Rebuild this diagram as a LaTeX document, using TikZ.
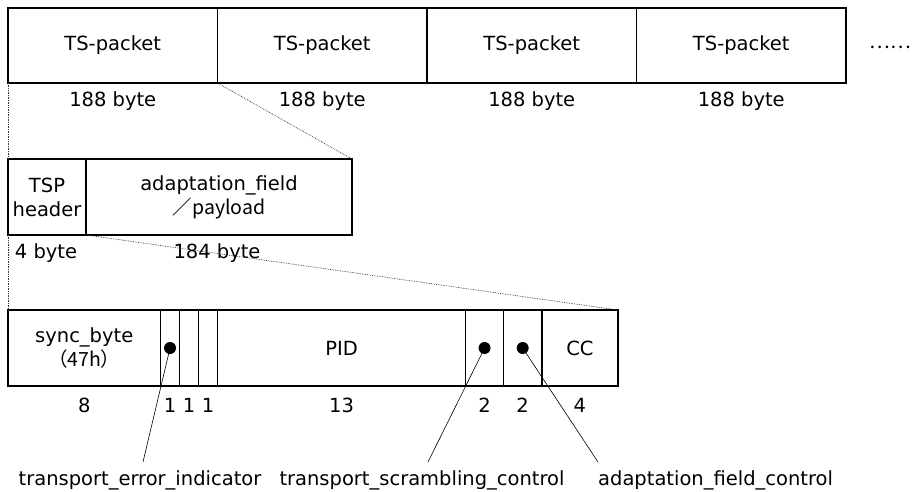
\documentclass[tikz,border=0pt]{standalone}
\usepackage{fontspec}
\setmainfont{DejaVu Sans}
\newfontfamily\cjk{Noto Sans CJK JP}
\usetikzlibrary{positioning}
\tikzset{
    cell/.style={draw,line width=1.6pt,inner sep=0pt,outer sep=0pt,minimum height=75pt,align=center},
    field/.style={cell,minimum height=76pt},
    lbl/.style={inner sep=0pt},
    zoomline/.style={densely dotted,line width=0.7pt,black!80},
    leader/.style={black,line width=0.6pt},
    bitdot/.style={circle,fill=black,inner sep=0pt,minimum size=12pt}
}
\def\bitw{19.0625}

\begin{document}
\begin{tikzpicture}[x=1pt,y=-1pt,font=\fontsize{19.5}{24}\selectfont]
\useasboundingbox (0,0) rectangle (915,491);
% TS packets
\foreach \i in {0,...,3}
	{\node[cell,minimum width=209.5pt] (pk\i) at (112.75+\i*209.5,45.5) {TS-packet};
	 \node[lbl] (len\i) at (112.75+\i*209.5,101) {188 byte};
	}
\node[lbl] (more) at (890,47) {\cjk ……};

% header + payload
\node[cell,minimum width=78pt,minimum height=76pt,anchor=north west] (hdr) at (8,159) {TSP\\header};
\node[cell,minimum width=266pt,minimum height=76pt,right=0pt of hdr] (pay) {adaptation\_field\\\cjk{／}payload};
\node[lbl] (hdrlen) at (46,253) {4 byte};
\node[lbl] (paylen) at (217,253) {184 byte};

% header fields
\node[field,minimum width=8*\bitw pt,anchor=north west] (sync) at (8,310) {sync\_byte\\\cjk{（}47h\cjk{）}};
\node[field,minimum width=\bitw pt,right=0pt of sync] (tei) {};
\node[field,minimum width=\bitw pt,right=0pt of tei] (pusi) {};
\node[field,minimum width=\bitw pt,right=0pt of pusi] (prio) {};
\node[field,minimum width=13*\bitw pt,right=0pt of prio] (pid) {PID};
\node[field,minimum width=2*\bitw pt,right=0pt of pid] (tsc) {};
\node[field,minimum width=2*\bitw pt,right=0pt of tsc] (afc) {};
\node[field,minimum width=4*\bitw pt,right=0pt of afc] (cc) {CC};

% bit counts
\coordinate (numrow) at (0,405);
\node[lbl] (nsync) at (sync |- numrow) {8};
\node[lbl] (ntei) at (tei |- numrow) {1};
\node[lbl] (npusi) at (pusi |- numrow) {1};
\node[lbl] (nprio) at (prio |- numrow) {1};
\node[lbl] (npid) at (pid |- numrow) {13};
\node[lbl] (ntsc) at (tsc |- numrow) {2};
\node[lbl] (nafc) at (afc |- numrow) {2};
\node[lbl] (ncc) at (cc |- numrow) {4};

% zoom lines
\draw[zoomline] (pk0.south west) -- (hdr.north west);
\draw[zoomline] (pk0.south east) -- (pay.north east);
\draw[zoomline] (hdr.south west) -- (sync.north west);
\draw[zoomline] (hdr.south east) -- (cc.north east);

% flags
\node[bitdot] (dtei) at (tei) {};
\node[bitdot] (dtsc) at (tsc) {};
\node[bitdot] (dafc) at (afc) {};
\node[lbl] (ltei) at (140,480) {transport\_error\_indicator};
\node[lbl] (ltsc) at (422,480) {transport\_scrambling\_control};
\node[lbl,anchor=west] (lafc) at (598,480) {adaptation\_field\_control};
\coordinate (etei) at (143,462);
\coordinate (etsc) at (428,462);
\coordinate (eafc) at (598,462);
\draw[leader] (dtei.center) -- (etei);
\draw[leader] (dtsc.center) -- (etsc);
\draw[leader] (dafc.center) -- (eafc);
\end{tikzpicture}
\end{document}
